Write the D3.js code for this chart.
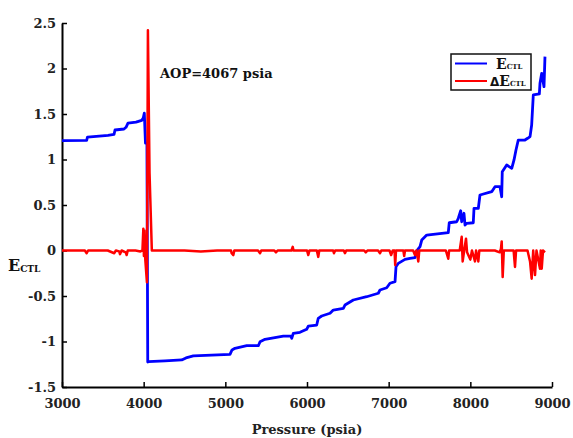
<!DOCTYPE html>
<html>
<head>
<meta charset="utf-8">
<script src="https://cdn.jsdelivr.net/npm/d3@7"></script>
<style>
  body { margin: 0; background: #fff; }
  text { font-family: "DejaVu Serif", serif; font-weight: bold; }
</style>
</head>
<body>
<div id="chart"></div>
<script>
// E_CTL vs pressure (psia)
var ectlP = [3000, 3302, 3312, 3563, 3637, 3649, 3759, 3784, 3808, 3906, 3976, 3995, 4008, 4022, 4040,
  4050, 4057, 4261, 4466, 4518, 4608, 5057, 5082, 5118, 5262, 5404, 5425, 5486, 5710, 5804, 5813, 5832, 5914,
  5996, 6016, 6119, 6138, 6180, 6282, 6322, 6445, 6465, 6567, 6731, 6873, 6894, 6976, 7016, 7078, 7090, 7118,
  7200, 7261, 7322, 7343, 7384, 7405, 7466, 7730, 7742, 7833, 7853, 7882, 7894, 7922, 7935, 7956, 8036, 8045,
  8098, 8118, 8262, 8302, 8363, 8384, 8391, 8445, 8507, 8535, 8559, 8587, 8669, 8702, 8731, 8751, 8771, 8845,
  8853, 8874, 8902, 8914];
var ectlV = [1.207, 1.211, 1.247, 1.266, 1.275, 1.324, 1.335, 1.354, 1.40, 1.41, 1.43, 1.456, 1.51, 1.18, 1.18,
  -1.225, -1.222, -1.214, -1.203, -1.181, -1.159, -1.141, -1.093, -1.075, -1.046, -1.046, -1.002, -0.976, -0.94, -0.94, -0.965, -0.91, -0.899,
  -0.866, -0.83, -0.819, -0.745, -0.72, -0.69, -0.654, -0.635, -0.599, -0.544, -0.508, -0.47, -0.434, -0.409, -0.36, -0.343, -0.178, -0.141,
  -0.097, -0.086, -0.079, -0.005, 0.042, 0.115, 0.17, 0.196, 0.305, 0.316, 0.354, 0.437, 0.316, 0.409, 0.28, 0.299, 0.305, 0.464,
  0.464, 0.61, 0.646, 0.701, 0.701, 0.591, 0.866, 0.94, 0.903, 0.995, 1.104, 1.214, 1.214, 1.233, 1.251, 1.379, 1.709, 1.72,
  1.837, 1.947, 1.80, 2.13];

// delta E_CTL vs pressure (psia)
var deltaP = [3000, 3280, 3302, 3320, 3560, 3640, 3660, 3700, 3710, 3730, 3780, 3792, 3805, 3900, 3960, 3985,
  3996, 4003, 4010, 4020, 4040, 4052, 4072, 4100, 4500, 4700, 4900, 5070, 5077, 5098, 5110, 5400, 5425, 5440,
  5600, 5620, 5640, 5810, 5825, 5835, 6000, 6016, 6030, 6120, 6138, 6150, 6320, 6330, 6345, 6450, 6465, 6480,
  6700, 6720, 6740, 6870, 6894, 6910, 7010, 7030, 7050, 7072, 7080, 7090, 7180, 7190, 7200, 7300, 7322, 7340,
  7363, 7375, 7700, 7730, 7740, 7870, 7894, 7906, 7925, 7947, 7960, 8000, 8020, 8057, 8070, 8098, 8110, 8300,
  8360, 8375, 8384, 8396, 8410, 8530, 8547, 8560, 8700, 8731, 8751, 8770, 8792, 8810, 8853, 8862, 8874, 8890, 8914];
var deltaV = [0, 0, -0.03, 0, 0, -0.03, 0, -0.01, -0.04, 0, -0.02, -0.05, 0, 0, -0.01, 0,
  0.24, -0.06, 0.22, -0.1, -0.35, 2.42, 0.85, 0, 0, -0.01, 0, 0, -0.03, -0.05, 0, 0, -0.03, 0,
  0, -0.02, 0, 0, 0.04, 0, 0, -0.05, 0, 0, -0.07, 0, 0, -0.03, 0, 0, -0.03, 0,
  0, -0.02, 0, 0, -0.03, 0, 0, -0.05, 0, 0, -0.16, 0, 0, -0.06, 0, 0, -0.05, 0,
  -0.12, 0, 0, -0.09, 0, 0, 0.15, -0.12, 0, 0.13, -0.02, -0.10, 0, -0.12, 0, -0.12, 0, 0,
  -0.02, 0.02, 0.10, -0.29, 0, 0, -0.18, 0, 0, -0.12, -0.31, 0, -0.27, 0, -0.20, 0, -0.20, 0, -0.02];

var xTicks = [3000, 4000, 5000, 6000, 7000, 8000, 9000];
var yTicks = [-1.5, -1, -0.5, 0, 0.5, 1, 1.5, 2, 2.5];

var width = 573, height = 438;
var margin = {left: 62, right: 21, top: 23, bottom: 51};
var serif = '"DejaVu Serif", serif';

var svg = d3.select('#chart').append('svg')
  .attr('width', width)
  .attr('height', height);

var x = d3.scaleLinear().domain([3000, 9000]).range([margin.left, width - margin.right]);
var y = d3.scaleLinear().domain([-1.5, 2.5]).range([height - margin.bottom, margin.top]);

var xAxis = svg.append('g')
  .attr('transform', 'translate(0,' + (height - margin.bottom) + ')')
  .call(d3.axisBottom(x).tickValues(xTicks).tickFormat(d3.format('d')).tickSizeInner(-5).tickSizeOuter(0).tickPadding(12));
var yAxis = svg.append('g')
  .attr('transform', 'translate(' + margin.left + ',0)')
  .call(d3.axisLeft(y).tickValues(yTicks).tickFormat(function(d){ return String(d); }).tickSizeInner(-5).tickSizeOuter(0).tickPadding(6));

[xAxis, yAxis].forEach(function(a){
  a.attr('font-family', null);
  a.select('.domain').attr('stroke', '#000').attr('stroke-width', 2);
  a.selectAll('.tick line').attr('stroke', '#000').attr('stroke-width', 1.5);
  a.selectAll('.tick text').attr('fill', '#222').style('font-size', '13px')
    .style('font-family', serif).style('font-weight', 'bold');
});

var ectl = ectlP.map(function(p, i){ return [p, ectlV[i]]; });
var delta = deltaP.map(function(p, i){ return [p, deltaV[i]]; });

var line = d3.line()
  .x(function(d){ return x(d[0]); })
  .y(function(d){ return y(d[1]); });

svg.append('path').datum(ectl)
  .attr('d', line)
  .attr('fill', 'none')
  .attr('stroke', '#0000ff')
  .attr('stroke-width', 2.8)
  .attr('stroke-linejoin', 'round');

svg.append('path').datum(delta)
  .attr('d', line)
  .attr('fill', 'none')
  .attr('stroke', '#ff0000')
  .attr('stroke-width', 2.5)
  .attr('stroke-linejoin', 'round');

// annotation
svg.append('text')
  .attr('x', 160).attr('y', 78)
  .style('font-size', '13px').attr('fill', '#111')
  .text('AOP=4067 psia');

// axis titles
svg.append('text')
  .attr('x', x(6000)).attr('y', 434)
  .attr('text-anchor', 'middle')
  .style('font-size', '13px').attr('fill', '#222')
  .text('Pressure (psia)');

var yl = svg.append('text')
  .attr('x', 8).attr('y', 271)
  .style('font-size', '16px').attr('fill', '#111');
yl.append('tspan').text('E');
yl.append('tspan').style('font-size', '9px').attr('dy', 1).text('CTL');

// legend
var lg = svg.append('g').attr('transform', 'translate(451,54)');
lg.append('rect')
  .attr('width', 80).attr('height', 36)
  .attr('fill', '#fff').attr('stroke', '#111').attr('stroke-width', 1.5);
lg.append('line').attr('x1', 4).attr('x2', 36).attr('y1', 9.5).attr('y2', 9.5)
  .attr('stroke', '#0000ff').attr('stroke-width', 2);
lg.append('line').attr('x1', 4).attr('x2', 36).attr('y1', 27).attr('y2', 27)
  .attr('stroke', '#ff0000').attr('stroke-width', 2);
var t1 = lg.append('text').attr('x', 45).attr('y', 15).style('font-size', '14px').attr('fill', '#111');
t1.append('tspan').text('E');
t1.append('tspan').style('font-size', '7px').text('CTL');
var t2 = lg.append('text').attr('x', 39).attr('y', 32).style('font-size', '14px').attr('fill', '#111');
t2.append('tspan').style('font-family', '"DejaVu Sans", sans-serif').style('font-size', '12px').text('Δ');
t2.append('tspan').text('E');
t2.append('tspan').style('font-size', '7px').text('CTL');
</script>
</body>
</html>
